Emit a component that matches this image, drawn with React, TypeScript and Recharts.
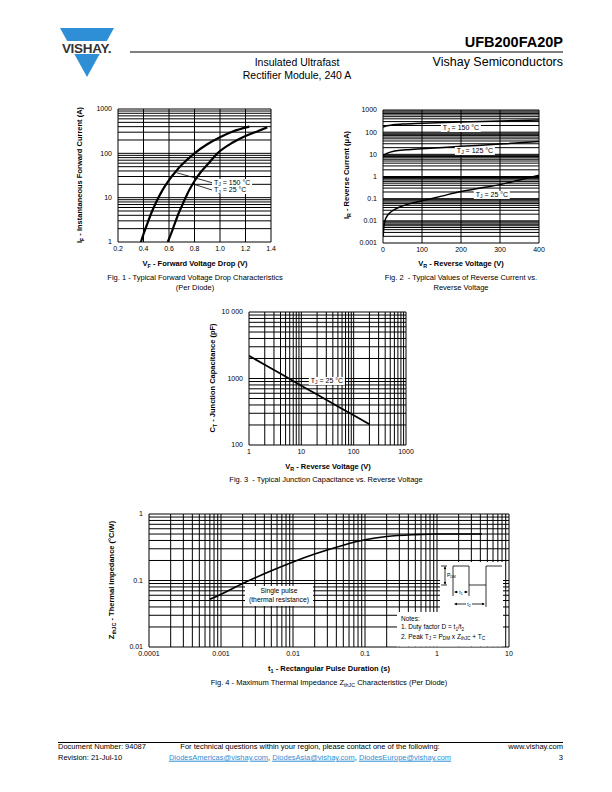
import React from "react";
import { LineChart, Line, XAxis, YAxis, ReferenceLine } from "recharts";

const FONT = "'Liberation Sans', Arial, Helvetica, sans-serif";
const BLUE = "#2f8fd6";

// Fig. 1 - forward voltage drop
const f1XTicks = [0.2, 0.4, 0.6, 0.8, 1.0, 1.2, 1.4];
const f1YTicks = [1, 10, 100, 1000];
const f1Hot = [
  { x: 0.38, y: 1 }, { x: 0.4, y: 1.5 }, { x: 0.43, y: 2.6 }, { x: 0.46, y: 4.4 },
  { x: 0.5, y: 8 }, { x: 0.55, y: 15 }, { x: 0.6, y: 25 }, { x: 0.65, y: 38 },
  { x: 0.7, y: 55 }, { x: 0.8, y: 100 }, { x: 0.9, y: 160 }, { x: 1.0, y: 230 },
  { x: 1.1, y: 310 }, { x: 1.23, y: 400 },
];
const f1Cold = [
  { x: 0.59, y: 1 }, { x: 0.615, y: 1.5 }, { x: 0.645, y: 2.6 }, { x: 0.675, y: 4.4 },
  { x: 0.715, y: 8 }, { x: 0.76, y: 15 }, { x: 0.805, y: 25 }, { x: 0.85, y: 38 },
  { x: 0.9, y: 55 }, { x: 0.98, y: 100 }, { x: 1.1, y: 175 }, { x: 1.2, y: 245 },
  { x: 1.3, y: 320 }, { x: 1.37, y: 385 },
];

// Fig. 2 - reverse current
const f2XTicks = [0, 100, 200, 300, 400];
const f2YTicks = [0.001, 0.01, 0.1, 1, 10, 100, 1000];
const f2T150 = [
  { x: 0, y: 170 }, { x: 10, y: 195 }, { x: 25, y: 215 }, { x: 50, y: 232 },
  { x: 100, y: 250 }, { x: 200, y: 285 }, { x: 300, y: 320 }, { x: 400, y: 355 },
];
const f2T125 = [
  { x: 0, y: 9 }, { x: 10, y: 11 }, { x: 30, y: 14 }, { x: 60, y: 16 },
  { x: 100, y: 18 }, { x: 200, y: 23 }, { x: 300, y: 29 }, { x: 400, y: 38 },
];
const f2T25 = [
  { x: 0.5, y: 0.002 }, { x: 2, y: 0.005 }, { x: 5, y: 0.01 }, { x: 10, y: 0.016 },
  { x: 20, y: 0.025 }, { x: 40, y: 0.04 }, { x: 70, y: 0.06 }, { x: 100, y: 0.08 },
  { x: 150, y: 0.13 }, { x: 200, y: 0.21 }, { x: 250, y: 0.3 }, { x: 300, y: 0.43 },
  { x: 350, y: 0.7 }, { x: 400, y: 1.15 },
];

// Fig. 3 - junction capacitance
const f3XTicks = [1, 10, 100, 1000];
const f3YTicks = [100, 1000, 10000];
const f3Cap = [
  { x: 1, y: 2200 }, { x: 2, y: 1610 }, { x: 5, y: 1070 }, { x: 10, y: 780 },
  { x: 20, y: 575 }, { x: 50, y: 380 }, { x: 100, y: 280 }, { x: 200, y: 205 },
];

// Fig. 4 - thermal impedance
const f4XTicks = [0.0001, 0.001, 0.01, 0.1, 1, 10];
const f4YTicks = [0.01, 0.1, 1];
const f4Z = [
  { x: 0.0007, y: 0.052 }, { x: 0.001, y: 0.062 }, { x: 0.002, y: 0.09 },
  { x: 0.005, y: 0.14 }, { x: 0.01, y: 0.19 }, { x: 0.02, y: 0.25 },
  { x: 0.05, y: 0.34 }, { x: 0.1, y: 0.41 }, { x: 0.2, y: 0.46 },
  { x: 0.5, y: 0.49 }, { x: 1, y: 0.5 }, { x: 2, y: 0.5 }, { x: 4.2, y: 0.5 },
];

function logGrid(lo: number, hi: number) {
  const out: number[] = [];
  const e0 = Math.round(Math.log10(lo));
  const e1 = Math.round(Math.log10(hi));
  for (let e = e0; e < e1; e++) {
    for (let k = 1; k < 10; k++) out.push(Number((k * Math.pow(10, e)).toPrecision(3)));
  }
  out.push(hi);
  return out;
}

type Pt = { x: number; y: number };
type Series = { data: Pt[]; width: number; type?: "monotone" | "linear"; color?: string };

const YW = 40;
const MT = 6;
const MR = 10;
const XH = 16;

function Plot(props: {
  l: number; t: number; w: number; h: number;
  xDomain: [number, number]; yDomain: [number, number];
  xLog?: boolean; xTicks: number[]; yTicks: number[];
  xGrid: number[]; yGrid: number[];
  xFmt: (v: number) => string; yFmt: (v: number) => string;
  series: Series[];
}) {
  const { l, t, w, h } = props;
  const tick = { fontSize: 7, fill: "#000", fontFamily: FONT };
  return (
    <div style={{ position: "absolute", left: l - YW, top: t - MT }}>
      <LineChart width={YW + w + MR} height={MT + h + XH} margin={{ top: MT, right: MR, left: 0, bottom: 0 }}>
        <XAxis
          dataKey="x" type="number" scale={props.xLog ? "log" : "linear"}
          domain={props.xDomain} ticks={props.xTicks} allowDataOverflow
          tickFormatter={props.xFmt} tick={tick} tickLine={false} axisLine={false}
          tickSize={0} tickMargin={4} height={XH} interval={0}
        />
        <YAxis
          type="number" scale="log" domain={props.yDomain} ticks={props.yTicks}
          allowDataOverflow tickFormatter={props.yFmt} tick={tick} tickLine={false}
          axisLine={false} tickSize={0} tickMargin={6} width={YW} interval={0}
        />
        {props.yGrid.map((v) => (
          <ReferenceLine key={"h" + v} y={v} stroke="#000" strokeWidth={1} />
        ))}
        {props.xGrid.map((v) => (
          <ReferenceLine key={"v" + v} x={v} stroke="#000" strokeWidth={1} />
        ))}
        {props.series.map((s, i) => (
          <Line
            key={i} data={s.data} dataKey="y" type={s.type ?? "monotone"}
            stroke={s.color ?? "#000"} strokeWidth={s.width} dot={false}
            isAnimationActive={false}
          />
        ))}
      </LineChart>
    </div>
  );
}

const Sub = ({ children }: { children: React.ReactNode }) => (
  <span style={{ fontSize: "0.72em", position: "relative", top: "0.3em" }}>{children}</span>
);

function Txt(props: {
  x: number; y: number; size: number; children: React.ReactNode;
  bold?: boolean; align?: "left" | "center" | "right"; bg?: boolean; rotate?: boolean;
  color?: string;
}) {
  const align = props.align ?? "center";
  const tx = align === "center" ? "-50%" : align === "right" ? "-100%" : "0";
  return (
    <div
      style={{
        position: "absolute", left: props.x, top: props.y, whiteSpace: "nowrap",
        fontSize: props.size, fontWeight: props.bold ? 700 : 400, lineHeight: 1.15,
        color: props.color ?? "#000",
        transform: props.rotate ? "translate(-50%,-50%) rotate(-90deg)" : `translate(${tx},-50%)`,
        background: props.bg ? "#fff" : "transparent", padding: props.bg ? "0 2px" : 0,
      }}
    >
      {props.children}
    </div>
  );
}

const dec = (v: number) => String(v);

export default function App() {
  return (
    <div style={{ position: "absolute", left: 0, top: 0, width: 612, height: 792, background: "#fff", fontFamily: FONT, overflow: "hidden" }}>
      {/* header */}
      <svg width={612} height={90} style={{ position: "absolute", left: 0, top: 0 }}>
        <polygon points="60,28 114,28 87,77" fill={BLUE} />
        <rect x={50} y={41} width={75} height={13} fill="#fff" />
        <text x={86.5} y={53} textAnchor="middle" fontFamily={FONT} fontWeight={700} fontSize={13.5} fill="#333" letterSpacing={-0.3}>VISHAY.</text>
        <line x1={130} y1={52} x2={563} y2={52} stroke="#000" strokeWidth={1} />
      </svg>
      <Txt x={563} y={42} size={14.5} bold align="right">UFB200FA20P</Txt>
      <Txt x={563} y={62} size={12.5} align="right">Vishay Semiconductors</Txt>
      <Txt x={297} y={62} size={10.5}>Insulated Ultrafast</Txt>
      <Txt x={297} y={75} size={10.5}>Rectifier Module, 240 A</Txt>

      {/* Fig. 1 */}
      <Plot
        l={118} t={109} w={153} h={133}
        xDomain={[0.2, 1.4]} yDomain={[1, 1000]} xTicks={f1XTicks} yTicks={f1YTicks}
        xGrid={f1XTicks} yGrid={logGrid(1, 1000)}
        xFmt={(v) => v.toFixed(1)} yFmt={dec}
        series={[{ data: f1Hot, width: 2.2 }, { data: f1Cold, width: 2.2 }]}
      />
      <svg width={612} height={300} style={{ position: "absolute", left: 0, top: 0 }}>
        <line x1={176.5} y1={172.7} x2={212} y2={182.7} stroke="#000" strokeWidth={0.8} />
        <line x1={193} y1={184} x2={212} y2={190} stroke="#000" strokeWidth={0.8} />
      </svg>
      <Txt x={212} y={182.7} size={7} align="left" bg>T<Sub>J</Sub> = 150 °C</Txt>
      <Txt x={212} y={190.3} size={7} align="left" bg>T<Sub>J</Sub> = 25 °C</Txt>
      <Txt x={80} y={175} size={7.5} bold rotate>I<Sub>F</Sub> - Instantaneous Forward Current (A)</Txt>
      <Txt x={195} y={264} size={7.5} bold>V<Sub>F</Sub> - Forward Voltage Drop (V)</Txt>
      <Txt x={195} y={278} size={7.5}>Fig. 1 - Typical Forward Voltage Drop Characteristics</Txt>
      <Txt x={195} y={288} size={7.5}>(Per Diode)</Txt>

      {/* Fig. 2 */}
      <Plot
        l={383} t={110} w={156} h={133}
        xDomain={[0, 400]} yDomain={[0.001, 1000]} xTicks={f2XTicks} yTicks={f2YTicks}
        xGrid={f2XTicks} yGrid={logGrid(0.001, 1000)}
        xFmt={dec} yFmt={dec}
        series={[{ data: f2T150, width: 1.5 }, { data: f2T125, width: 1.5 }, { data: f2T25, width: 1.5 }]}
      />
      <Txt x={461} y={128} size={7} bg>T<Sub>J</Sub> = 150 °C</Txt>
      <Txt x={475} y={150.5} size={7} bg>T<Sub>J</Sub> = 125 °C</Txt>
      <Txt x={492} y={194.5} size={7} bg>T<Sub>J</Sub> = 25 °C</Txt>
      <Txt x={347} y={175} size={7.5} bold rotate>I<Sub>R</Sub> - Reverse Current (μA)</Txt>
      <Txt x={461} y={264} size={7.5} bold>V<Sub>R</Sub> - Reverse Voltage (V)</Txt>
      <Txt x={461} y={278} size={7.5}>Fig. 2&nbsp; - Typical Values of Reverse Current vs.</Txt>
      <Txt x={461} y={288} size={7.5}>Reverse Voltage</Txt>

      {/* Fig. 3 */}
      <Plot
        l={249} t={312} w={157} h={133}
        xLog xDomain={[1, 1000]} yDomain={[100, 10000]} xTicks={f3XTicks} yTicks={f3YTicks}
        xGrid={logGrid(1, 1000)} yGrid={logGrid(100, 10000)}
        xFmt={dec} yFmt={(v) => (v === 10000 ? "10\u00a0000" : String(v))}
        series={[{ data: f3Cap, width: 1.8, type: "linear" }]}
      />
      <Txt x={327} y={380.5} size={7} bg>T<Sub>J</Sub> = 25 °C</Txt>
      <Txt x={213} y={378} size={7.5} bold rotate>C<Sub>T</Sub> - Junction Capacitance (pF)</Txt>
      <Txt x={328} y={467} size={7.5} bold>V<Sub>R</Sub> - Reverse Voltage (V)</Txt>
      <Txt x={326} y={480} size={7.5}>Fig. 3&nbsp; - Typical Junction Capacitance vs. Reverse Voltage</Txt>

      {/* Fig. 4 */}
      <Plot
        l={149} t={514} w={360} h={133}
        xLog xDomain={[0.0001, 10]} yDomain={[0.01, 1]} xTicks={f4XTicks} yTicks={f4YTicks}
        xGrid={logGrid(0.0001, 10)} yGrid={logGrid(0.01, 1)}
        xFmt={dec} yFmt={dec}
        series={[{ data: f4Z, width: 1.6 }]}
      />
      <svg width={612} height={792} style={{ position: "absolute", left: 0, top: 0 }}>
        <rect x={440} y={562} width={63} height={51} fill="#fff" />
        <rect x={397} y={612} width={106} height={34.5} fill="#fff" />
        <g stroke="#000" strokeWidth={0.8} fill="none">
          <polyline points="453,586 453,566 469,566 469,585 486,585 486,566 502,566" />
          <line x1={441} y1={566} x2={447} y2={566} />
          <line x1={441} y1={585} x2={447} y2={585} />
          <line x1={445} y1={567} x2={445} y2={584} />
          <line x1={453} y1={586} x2={453} y2={596} />
          <line x1={469} y1={585} x2={469} y2={596} />
          <line x1={486} y1={585} x2={486} y2={607} />
          <line x1={455} y1={592} x2={467} y2={592} />
          <line x1={455} y1={604} x2={484} y2={604} />
        </g>
        <g fill="#000">
          <polygon points="445,566 443.8,569 446.2,569" />
          <polygon points="445,585 443.8,582 446.2,582" />
          <polygon points="454,592 457,590.8 457,593.2" />
          <polygon points="468,592 465,590.8 465,593.2" />
          <polygon points="454,604 457,602.8 457,605.2" />
          <polygon points="485,604 482,602.8 482,605.2" />
        </g>
        <text x={447} y={577} fontFamily={FONT} fontSize={5}>P<tspan fontSize={3.5} dy={1}>DM</tspan></text>
        <rect x={458} y={589.5} width={6} height={5} fill="#fff" />
        <text x={461} y={594} textAnchor="middle" fontFamily={FONT} fontSize={5}>t<tspan fontSize={3.5} dy={1}>1</tspan></text>
        <rect x={466} y={601.5} width={6} height={5} fill="#fff" />
        <text x={469} y={606} textAnchor="middle" fontFamily={FONT} fontSize={5}>t<tspan fontSize={3.5} dy={1}>2</tspan></text>
      </svg>
      <div style={{ position: "absolute", left: 401, top: 615, fontSize: 6.5, lineHeight: "8.3px", whiteSpace: "nowrap" }}>
        <div>Notes:</div>
        <div>1. Duty factor D = t<Sub>1</Sub>/t<Sub>2</Sub></div>
        <div>2. Peak T<Sub>J</Sub> = P<Sub>DM</Sub> x Z<Sub>thJC</Sub> + T<Sub>C</Sub></div>
      </div>
      <div style={{ position: "absolute", left: 245, top: 586, width: 68, height: 20, background: "#fff" }} />
      <Txt x={279} y={591} size={6.8}>Single pulse</Txt>
      <Txt x={279} y={600} size={6.8}>(thermal resistance)</Txt>
      <Txt x={112} y={580} size={7.5} bold rotate>Z<Sub>thJC</Sub> - Thermal Impedance (°C/W)</Txt>
      <Txt x={329} y={669} size={7.5} bold>t<Sub>1</Sub> - Rectangular Pulse Duration (s)</Txt>
      <Txt x={329} y={683} size={7.5}>Fig. 4 - Maximum Thermal Impedance Z<Sub>thJC</Sub> Characteristics (Per Diode)</Txt>

      {/* footer */}
      <div style={{ position: "absolute", left: 58, top: 741.5, width: 505, height: 1, background: "#000" }} />
      <Txt x={58} y={747} size={7.5} align="left">Document Number: 94087</Txt>
      <Txt x={58} y={758} size={7.5} align="left">Revision: 21-Jul-10</Txt>
      <Txt x={310} y={747} size={7.5}>For technical questions within your region, please contact one of the following:</Txt>
      <Txt x={310} y={758} size={7.5}>
        <span style={{ color: BLUE, textDecoration: "underline" }}>DiodesAmericas@vishay.com</span>,{" "}
        <span style={{ color: BLUE, textDecoration: "underline" }}>DiodesAsia@vishay.com</span>,{" "}
        <span style={{ color: BLUE, textDecoration: "underline" }}>DiodesEurope@vishay.com</span>
      </Txt>
      <Txt x={563} y={747} size={7.5} align="right">www.vishay.com</Txt>
      <Txt x={563} y={758} size={7.5} align="right">3</Txt>
    </div>
  );
}
